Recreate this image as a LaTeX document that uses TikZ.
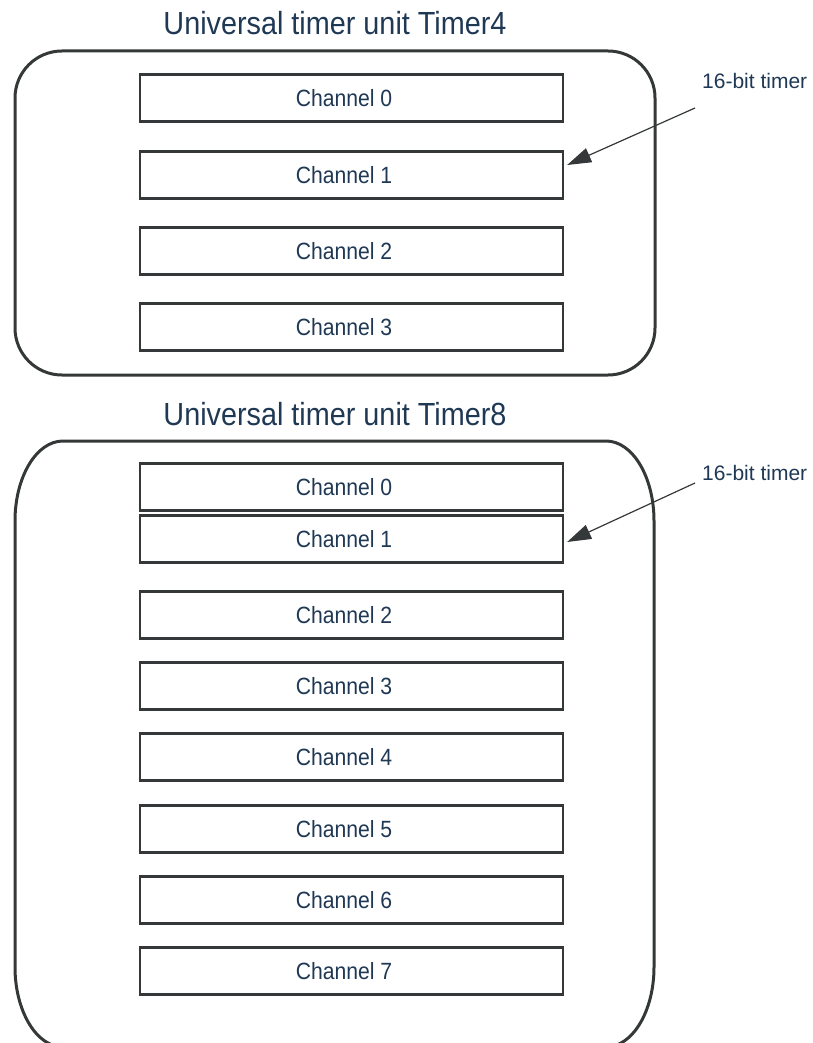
\documentclass[tikz,border=0pt]{standalone}
\usepackage{fontspec}
\setmainfont{Liberation Sans}
\newfontfamily\narrowfont{Liberation Sans}[FakeStretch=0.9]
\usepackage{tikz}
\usetikzlibrary{arrows.meta}

\definecolor{inkblue}{RGB}{31,56,84}
\definecolor{edgegray}{RGB}{52,56,56}

\begin{document}
\begin{tikzpicture}[x=1pt, y=-1pt,
  unitline/.style = {draw=edgegray, line width=3pt},
  chan/.style = {draw=edgegray, line width=2.3pt, minimum width=423pt, minimum height=47pt, inner sep=0pt,
                 font=\narrowfont\fontsize{23.5}{28}\selectfont, text=inkblue},
  heading/.style = {anchor=base, inner sep=0pt, font=\narrowfont\fontsize{32}{38}\selectfont, text=inkblue},
  note/.style = {anchor=base west, inner sep=0pt, font=\fontsize{21}{25}\selectfont, text=inkblue},
  ptr/.style = {draw=edgegray, line width=1.2pt, -{Triangle[length=24pt, width=15pt]}}]
\useasboundingbox (0,0) rectangle (813,1043);

% Timer4
\node[heading] (h4) at (335,35) {Universal timer unit Timer4};
\draw[unitline, rounded corners=47pt] (15,51) rectangle (655,375);
\foreach \i/\y in {0/98, 1/175, 2/251, 3/327}
  \node[chan] (a\i) at (351.5,\y) {Channel \i\hspace*{15pt}};
\node[note] (n4) at (702,89) {16-bit timer};
\coordinate (p4) at (695,108);
\draw[ptr] (p4) -- ([shift={(3,-10)}]a1.east);

% Timer8
\node[heading] (h8) at (335,425) {Universal timer unit Timer8};
\draw[unitline] (63,441) -- (606,441)
  arc[start angle=-90, end angle=0, x radius=48, y radius=80] -- (654,967)
  arc[start angle=0, end angle=90, x radius=48, y radius=80] -- (63,1047)
  arc[start angle=90, end angle=180, x radius=48, y radius=80] -- (15,521)
  arc[start angle=180, end angle=270, x radius=48, y radius=80] -- cycle;
\node[chan] (b0) at (351.5,487) {Channel 0\hspace*{15pt}};
\node[chan] (b1) at (351.5,539) {Channel 1\hspace*{15pt}};
\foreach \i/\y in {2/615, 3/686, 4/757, 5/829, 6/900, 7/971}
  \node[chan] (b\i) at (351.5,\y) {Channel \i\hspace*{15pt}};
\node[note] (n8) at (702,480) {16-bit timer};
\coordinate (p8) at (695,483);
\draw[ptr] (p8) -- ([shift={(3,3)}]b1.east);
\end{tikzpicture}
\end{document}
